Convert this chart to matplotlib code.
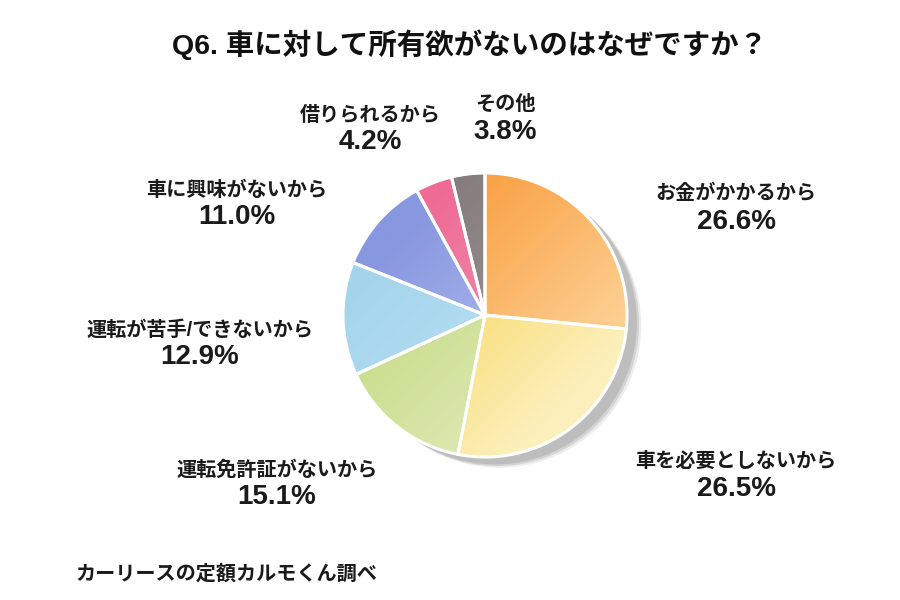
import numpy as np
import matplotlib
matplotlib.use("Agg")
import matplotlib.pyplot as plt
from matplotlib.colors import LinearSegmentedColormap
from matplotlib.patches import Circle

# data
labels = ["お金がかかるから", "車を必要としないから", "運転免許証がないから",
          "運転が苦手/できないから", "車に興味がないから", "借りられるから", "その他"]
values = [26.6, 26.5, 15.1, 12.9, 11.0, 4.2, 3.8]
dark_cols = ["#F99C3C", "#F7D24F", "#C2D97C", "#A3D4EC", "#8797E0", "#EE6B94", "#857C7C"]
light_cols = ["#FDD49A", "#FCF0BC", "#E0EBBB", "#BFE2F3", "#BAC3F2", "#F49AB6", "#A09999"]

# label centres in pixels (x, y of first line, y of second line)
label_pos = [(736, 193, 222), (736, 461, 489), (277, 470, 497),
             (200, 330, 357), (237, 190, 217), (370, 115, 142), (505, 104, 132)]

title = "Q6. 車に対して所有欲がないのはなぜですか？"
source = "カーリースの定額カルモくん調べ"

W, H = 900, 600
cx, cy, R = 485, 315, 142

fig = plt.figure(figsize=(9, 6), dpi=100)
ax = fig.add_axes([0, 0, 1, 1])
ax.axis("off")

# shadow
for off, a in [(0.1, 0.25), (0.085, 0.45), (0.07, 0.7)]:
    ax.add_patch(Circle((off, -off * 0.75), 1.0, color="#B5B5B5", alpha=a, lw=0, zorder=0))

wedges, _ = ax.pie(values, startangle=90, counterclock=False, radius=1, center=(0, 0),
                   colors=dark_cols, wedgeprops=dict(edgecolor="none", linewidth=0))
for w in wedges:
    w.set_zorder(1)

# gradient fill, darker upper left, lighter lower right
xs = np.linspace(-1, 1, 300)
gx, gy = np.meshgrid(xs, xs[::-1])
t = np.clip((gx - gy) / 2.4 + 0.5, 0, 1)
for w, c0, c1 in zip(wedges, dark_cols, light_cols):
    cmap = LinearSegmentedColormap.from_list("g", [c0, c1])
    im = ax.imshow(t, cmap=cmap, extent=(-1, 1, -1, 1), aspect="auto",
                   vmin=0, vmax=1, zorder=2, interpolation="bilinear")
    im.set_clip_path(w)

# white separators
edges, _ = ax.pie(values, startangle=90, counterclock=False, radius=1, center=(0, 0),
                  colors=["none"] * len(values),
                  wedgeprops=dict(edgecolor="white", linewidth=2.2))
for w in edges:
    w.set_zorder(3)

ax.set_xlim(-cx / R, (W - cx) / R)
ax.set_ylim(-(H - cy) / R, cy / R)

fam = ["Liberation Sans", "Noto Sans CJK JP"]
fig.text(470 / W, 1 - 45 / H, title, ha="center", va="center", fontsize=20.5,
         fontweight="bold", family=fam, color="#111111")
for lab, v, (px, py1, py2) in zip(labels, values, label_pos):
    fig.text(px / W, 1 - py1 / H, lab, ha="center", va="center", fontsize=14.5,
             fontweight="bold", family=fam, color="#1a1a1a")
    fig.text(px / W, 1 - py2 / H, f"{v:.1f}%", ha="center", va="center", fontsize=20,
             fontweight="bold", family=fam, color="#1a1a1a")
fig.text(75 / W, 1 - 574 / H, source, ha="left", va="center", fontsize=14.5,
         fontweight="bold", family=fam, color="#1a1a1a")

fig.savefig("out.png", dpi=100, facecolor="white")
